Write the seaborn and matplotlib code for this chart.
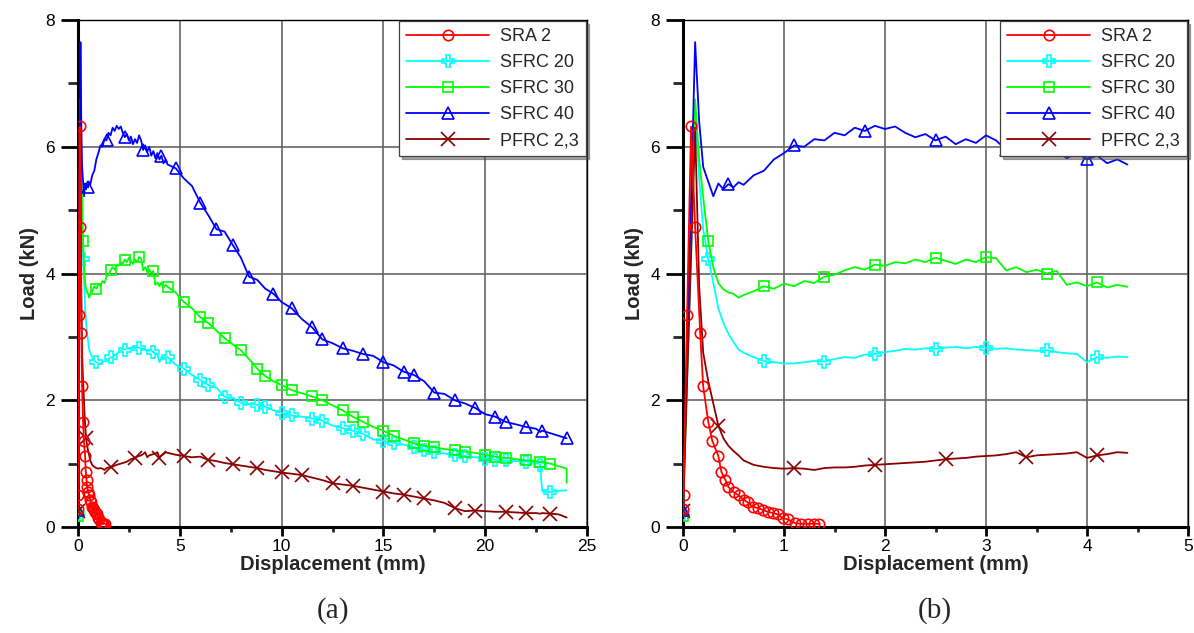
import numpy as np
import matplotlib
matplotlib.use("Agg")
import matplotlib.pyplot as plt
from matplotlib.lines import Line2D
from matplotlib.ticker import MultipleLocator
import seaborn as sns

# ---------------- data ----------------
labels = ["SRA 2", "SFRC 20", "SFRC 30", "SFRC 40", "PFRC 2,3"]
colors = ["#FF0000", "#00FFFF", "#00FF00", "#0000FF", "#8B0000"]
markers = ["o", "P", "s", "^", "x"]

sra2_disp = [0.0, 0.005, 0.04, 0.08, 0.12, 0.17, 0.2, 0.25, 0.29, 0.35, 0.38, 0.42, 0.45,
             0.5, 0.55, 0.6, 0.64, 0.69, 0.74, 0.79, 0.84, 0.89, 0.94, 0.99, 1.04, 1.11,
             1.17, 1.24, 1.3, 1.35]
sra2_load = [0.28, 0.5, 3.34, 6.32, 4.73, 3.06, 2.22, 1.66, 1.36, 1.12, 0.87, 0.74, 0.63,
             0.55, 0.5, 0.43, 0.39, 0.32, 0.30, 0.27, 0.24, 0.22, 0.20, 0.14, 0.12, 0.06,
             0.05, 0.05, 0.05, 0.05]

disp = [0.0, 0.12, 0.16, 0.2, 0.25, 0.3, 0.35, 0.4, 0.45, 0.5, 0.55, 0.6,
        0.7, 0.8, 0.9, 1.0, 1.1, 1.2, 1.3, 1.4, 1.5, 1.6, 1.7, 1.8, 1.9, 2.0,
        2.1, 2.2, 2.3, 2.4, 2.5, 2.6, 2.7, 2.8, 2.9, 3.0, 3.1, 3.2, 3.3, 3.4,
        3.5, 3.6, 3.7, 3.8, 3.9, 4.0, 4.1, 4.2, 4.3, 4.4,
        4.8, 5.2, 5.6, 6.0, 6.4, 6.8, 7.2, 7.6, 8.0, 8.4, 8.8, 9.2, 9.6, 10.0,
        10.5, 11.0, 11.5, 12.0, 12.5, 13.0, 13.5, 14.0, 14.5, 15.0, 15.5, 16.0,
        16.5, 17.0, 17.5, 18.0, 18.5, 19.0, 19.5, 20.0, 20.5, 21.0, 21.5, 22.0,
        22.5, 22.7, 22.8, 23.2, 23.6, 24.0, 24.0]

sfrc20_load = [0.20, 6.45, 5.5, 4.7, 4.23, 3.85, 3.45, 3.22, 3.05, 2.92, 2.80, 2.75,
               2.68, 2.62, 2.60, 2.58, 2.58, 2.60, 2.62, 2.61, 2.65, 2.68, 2.67, 2.72, 2.73, 2.76,
               2.78, 2.81, 2.80, 2.82, 2.81, 2.83, 2.84, 2.82, 2.84, 2.83, 2.81, 2.82, 2.80, 2.79,
               2.78, 2.79, 2.76, 2.74, 2.73, 2.60, 2.68, 2.67, 2.69, 2.68,
               2.56, 2.50, 2.40, 2.32, 2.24, 2.20, 2.05, 2.04, 1.96, 1.94, 1.93, 1.90, 1.84, 1.80,
               1.76, 1.74, 1.71, 1.68, 1.60, 1.56, 1.52, 1.47, 1.38, 1.36, 1.33, 1.30,
               1.26, 1.22, 1.18, 1.16, 1.14, 1.12, 1.10, 1.08, 1.06, 1.05, 1.04, 1.03,
               1.02, 0.98, 0.56, 0.55, 0.57, 0.58, 0.58]

sfrc30_load = [0.17, 6.75, 5.8, 5.2, 4.51, 4.1, 3.85, 3.75, 3.70, 3.68, 3.62, 3.66,
               3.72, 3.80, 3.76, 3.84, 3.80, 3.88, 3.85, 3.95, 3.98, 4.05, 4.10, 4.06, 4.14, 4.12,
               4.18, 4.16, 4.22, 4.18, 4.25, 4.20, 4.15, 4.22, 4.18, 4.26, 4.24, 4.05, 4.10, 4.02,
               4.06, 4.00, 4.04, 3.82, 3.86, 3.80, 3.86, 3.78, 3.82, 3.79,
               3.70, 3.55, 3.45, 3.31, 3.22, 3.10, 2.98, 2.88, 2.79, 2.65, 2.50, 2.38, 2.30, 2.24,
               2.16, 2.11, 2.06, 2.00, 1.92, 1.84, 1.74, 1.66, 1.58, 1.52, 1.44, 1.38,
               1.32, 1.28, 1.26, 1.23, 1.21, 1.19, 1.17, 1.14, 1.11, 1.09, 1.07, 1.05,
               1.04, 1.02, 1.03, 1.00, 0.96, 0.92, 0.70]

sfrc40_load = [0.27, 7.65, 6.4, 5.68, 5.45, 5.22, 5.42, 5.33, 5.41, 5.36, 5.44, 5.40,
               5.55, 5.62, 5.80, 5.90, 6.02, 6.00, 6.12, 6.10, 6.22, 6.18, 6.30, 6.25, 6.33, 6.28,
               6.32, 6.22, 6.15, 6.20, 6.10, 6.16, 6.04, 6.12, 6.06, 6.18, 6.10, 5.95, 6.02, 5.92,
               6.00, 5.86, 5.93, 5.82, 5.90, 5.80, 5.86, 5.74, 5.80, 5.72,
               5.66, 5.50, 5.38, 5.12, 4.92, 4.70, 4.66, 4.45, 4.25, 3.95, 3.90, 3.76, 3.68, 3.55,
               3.45, 3.28, 3.15, 2.96, 2.90, 2.82, 2.78, 2.73, 2.70, 2.60, 2.55, 2.45,
               2.40, 2.30, 2.12, 2.10, 2.00, 1.95, 1.88, 1.78, 1.74, 1.66, 1.62, 1.58,
               1.55, 1.50, 1.52, 1.48, 1.44, 1.40, 1.40]

pfrc_load = [0.25, 6.3, 3.8, 2.75, 2.3, 1.95, 1.6, 1.40, 1.28, 1.20, 1.13, 1.05,
             0.98, 0.95, 0.93, 0.92, 0.93, 0.92, 0.90, 0.93, 0.94, 0.94, 0.95, 0.97, 0.98, 0.99,
             1.00, 1.01, 1.02, 1.03, 1.05, 1.07, 1.08, 1.09, 1.11, 1.12, 1.13, 1.15, 1.18, 1.10,
             1.13, 1.14, 1.15, 1.16, 1.18, 1.09, 1.13, 1.15, 1.18, 1.17,
             1.14, 1.12, 1.10, 1.11, 1.06, 1.04, 1.01, 0.99, 0.97, 0.95, 0.93, 0.90, 0.88, 0.86,
             0.84, 0.82, 0.78, 0.74, 0.69, 0.67, 0.65, 0.62, 0.59, 0.56, 0.53, 0.51,
             0.48, 0.45, 0.42, 0.38, 0.30, 0.25, 0.26, 0.25, 0.24, 0.24, 0.23, 0.22,
             0.22, 0.21, 0.22, 0.21, 0.20, 0.15, 0.15]

x_ticks_a = [0, 5, 10, 15, 20, 25]
x_ticks_b = [0, 1, 2, 3, 4, 5]
y_ticks = [0, 2, 4, 6, 8]

series = [
    (sra2_disp, sra2_load),
    (disp, sfrc20_load),
    (disp, sfrc30_load),
    (disp, sfrc40_load),
    (disp, pfrc_load),
]

# ---------------- style ----------------
sns.set_style("ticks")
plt.rcParams["font.family"] = ["Liberation Sans", "DejaVu Sans"]

marker_sizes = [7.5, 8.5, 7.0, 8.5, 9.5]
# marker placement (offset, spacing in mm) per panel; None -> every point
mark_a = [None, (0.25, 0.7), (0.25, 0.7), (0.5, 0.9), (0.4, 1.2)]
mark_b = [None, (0.25, 0.55), (0.25, 0.55), (0.45, 0.7), (0.35, 0.75)]


def marker_idx(x, y, spec):
    if spec is None:
        return None
    offset, step = spec
    x = np.asarray(x, float)
    y = np.asarray(y, float)
    peak = int(np.argmax(y))
    idx = {0}
    for t in np.arange(offset, x.max() + 1e-9, step):
        i = int(np.argmin(np.abs(x - t)))
        if i > peak:
            idx.add(i)
    return sorted(idx)


fig = plt.figure(figsize=(11.94, 6.33), dpi=100)
ax_a = fig.add_axes([78 / 1194, 1 - 527 / 633, 509 / 1194, 507 / 633])
ax_b = fig.add_axes([683 / 1194, 1 - 527 / 633, 505 / 1194, 507 / 633])


def draw(ax, xmax_data, mark_specs, xlim, xticks, xminor):
    for k in range(len(labels)):
        x = np.asarray(series[k][0], float)
        y = np.asarray(series[k][1], float)
        m = x <= xmax_data + 1e-9
        xs, ys = x[m], y[m]
        sns.lineplot(x=xs, y=ys, ax=ax, sort=False, estimator=None, legend=False,
                     color=colors[k], linewidth=1.3, marker=markers[k],
                     markevery=marker_idx(xs, ys, mark_specs[k]),
                     markersize=marker_sizes[k], markerfacecolor="none",
                     markeredgecolor=colors[k], markeredgewidth=1.2,
                     zorder=3 + (2 if k == 0 else 0))
    ax.set_xlim(*xlim)
    ax.set_ylim(0, 8)
    ax.set_xticks(xticks)
    ax.set_yticks(y_ticks)
    ax.xaxis.set_minor_locator(MultipleLocator(xminor))
    ax.yaxis.set_minor_locator(MultipleLocator(1))
    ax.grid(True, which="major", color="#666666", linewidth=1.2)
    ax.set_axisbelow(True)
    for s in ["left", "bottom"]:
        ax.spines[s].set_linewidth(2.2)
        ax.spines[s].set_color("black")
    for s in ["top", "right"]:
        ax.spines[s].set_linewidth(1.0)
        ax.spines[s].set_color("black")
        ax.spines[s].set_visible(True)
    ax.tick_params(axis="y", which="major", direction="out", length=12.5, width=2.0,
                   labelsize=12.5, pad=4, right=False, colors="black")
    ax.tick_params(axis="y", which="minor", direction="out", length=7, width=2.0,
                   right=False)
    ax.tick_params(axis="x", which="major", direction="out", length=6.5, width=2.0,
                   labelsize=12.5, pad=2, top=False, colors="black")
    ax.tick_params(axis="x", which="minor", direction="out", length=3.5, width=2.0,
                   top=False)
    ax.set_xlabel("Displacement (mm)", fontsize=14.5, fontweight="bold", labelpad=1)
    ax.set_ylabel("Load (kN)", fontsize=14.5, fontweight="bold", labelpad=5)

    handles = [Line2D([0], [0], color=colors[k], linewidth=1.3, marker=markers[k],
                      markersize=marker_sizes[k], markerfacecolor="none",
                      markeredgecolor=colors[k], markeredgewidth=1.2)
               for k in range(len(labels))]
    leg = ax.legend(handles, labels, loc="upper right", fontsize=13, frameon=True,
                    fancybox=False, shadow=True, edgecolor="#404040", framealpha=1,
                    borderaxespad=0.05, handlelength=4.6, labelspacing=0.5,
                    handletextpad=0.6, borderpad=0.4, numpoints=1)
    leg.get_frame().set_linewidth(0.9)


draw(ax_a, 24.0, mark_a, (0, 25), x_ticks_a, 2.5)
draw(ax_b, 4.4, mark_b, (0, 5), x_ticks_b, 0.5)

fig.text(333 / 1194, 1 - 611 / 633, "(a)", ha="center", va="center",
         fontsize=21, family=["Liberation Serif", "DejaVu Serif"])
fig.text(935 / 1194, 1 - 611 / 633, "(b)", ha="center", va="center",
         fontsize=21, family=["Liberation Serif", "DejaVu Serif"])

fig.savefig("out.png", dpi=100)
